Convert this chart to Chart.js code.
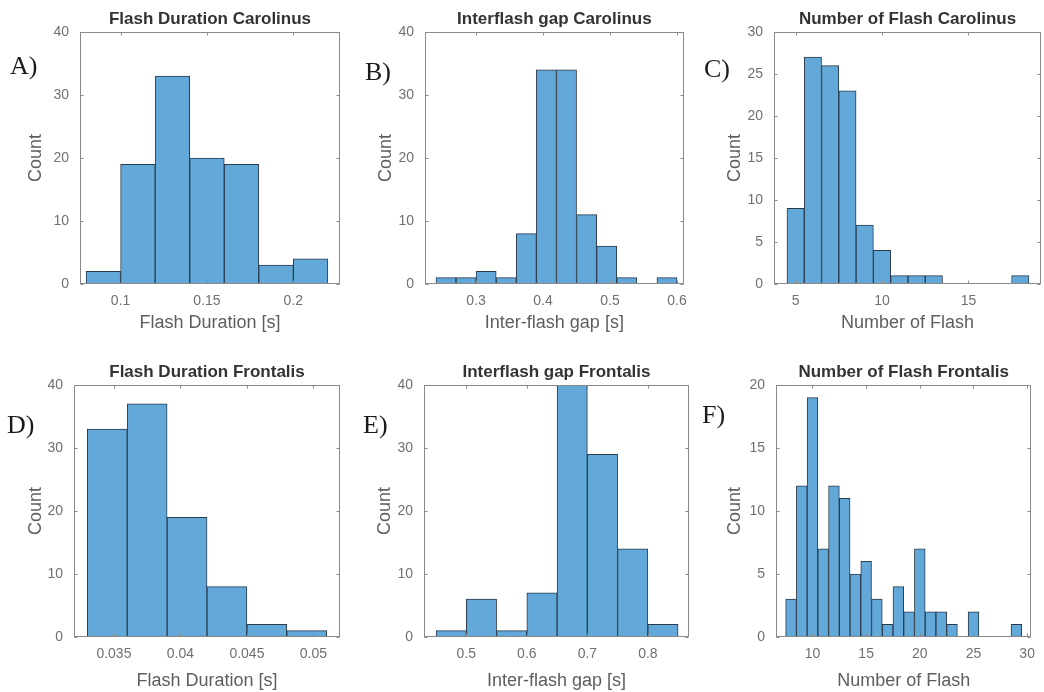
<!DOCTYPE html>
<html>
<head>
<meta charset="utf-8">
<script src="https://cdn.jsdelivr.net/npm/chart.js@4.4.1/dist/chart.umd.min.js"></script>
<style>
  html, body { margin: 0; padding: 0; background: #fff; }
  #wrap { position: relative; width: 1044px; height: 692px; overflow: hidden; }
  #wrap canvas { position: absolute; }
</style>
</head>
<body>
<div id="wrap">
  <canvas id="pA" width="348" height="346" style="left:0;top:0"></canvas>
  <canvas id="pB" width="348" height="346" style="left:348px;top:0"></canvas>
  <canvas id="pC" width="348" height="346" style="left:696px;top:0"></canvas>
  <canvas id="pD" width="348" height="346" style="left:0;top:346px"></canvas>
  <canvas id="pE" width="348" height="346" style="left:348px;top:346px"></canvas>
  <canvas id="pF" width="348" height="346" style="left:696px;top:346px"></canvas>
</div>
<script>
// A) flash duration, Carolinus (bin centres, counts)
const durCarBins = [0.09, 0.11, 0.13, 0.15, 0.17, 0.19, 0.21];
const durCarCounts = [2, 19, 33, 20, 19, 3, 4];
const durCarTicks = [0.1, 0.15, 0.2];

// B) inter-flash gap, Carolinus
const gapCarBins = [0.255, 0.285, 0.315, 0.345, 0.375, 0.405, 0.435, 0.465, 0.495, 0.525, 0.555, 0.585];
const gapCarCounts = [1, 1, 2, 1, 8, 34, 34, 11, 6, 1, 0, 1];
const gapCarTicks = [0.3, 0.4, 0.5, 0.6];

// C) number of flashes, Carolinus
const numCarBins = [5, 6, 7, 8, 9, 10, 11, 12, 13, 14, 15, 16, 17, 18];
const numCarCounts = [9, 27, 26, 23, 7, 4, 1, 1, 1, 0, 0, 0, 0, 1];
const numCarTicks = [5, 10, 15];

// D) flash duration, Frontalis
const durFroBins = [0.0345, 0.0375, 0.0405, 0.0435, 0.0465, 0.0495];
const durFroCounts = [33, 37, 19, 8, 2, 1];
const durFroTicks = [0.035, 0.04, 0.045, 0.05];

// E) inter-flash gap, Frontalis
const gapFroBins = [0.475, 0.525, 0.575, 0.625, 0.675, 0.725, 0.775, 0.825];
const gapFroCounts = [1, 6, 1, 7, 40, 29, 14, 2];
const gapFroTicks = [0.5, 0.6, 0.7, 0.8];

// F) number of flashes, Frontalis
const numFroBins = [8, 9, 10, 11, 12, 13, 14, 15, 16, 17, 18, 19, 20, 21, 22, 23, 24, 25, 26, 27, 28, 29];
const numFroCounts = [3, 12, 19, 7, 12, 11, 5, 6, 3, 1, 4, 2, 7, 2, 2, 1, 0, 2, 0, 0, 0, 1];
const numFroTicks = [10, 15, 20, 25, 30];

const countTicks40 = [0, 10, 20, 30, 40];
const countTicks30 = [0, 5, 10, 15, 20, 25, 30];
const countTicks20 = [0, 5, 10, 15, 20];

const FONT = '"Liberation Sans", Arial, sans-serif';

// box, inner tick marks, title and panel letter (matlab look)
const matlabFrame = {
  id: 'matlabFrame',
  afterDatasetsDraw(chart, args, opts) {
    const { ctx, chartArea: a, scales } = chart;
    const l = Math.round(a.left) + 0.5, r = Math.round(a.right) - 0.5;
    const t = Math.round(a.top) + 0.5, b = Math.round(a.bottom) - 0.5;
    ctx.save();
    ctx.strokeStyle = '#8a8a8a';
    ctx.lineWidth = 1;
    ctx.strokeRect(l, t, r - l, b - t);
    ctx.beginPath();
    scales.x.ticks.forEach((tk) => {
      const px = Math.round(scales.x.getPixelForValue(tk.value)) + 0.5;
      ctx.moveTo(px, b); ctx.lineTo(px, b - 3);
      ctx.moveTo(px, t); ctx.lineTo(px, t + 3);
    });
    scales.y.ticks.forEach((tk) => {
      const py = Math.round(scales.y.getPixelForValue(tk.value)) + 0.5;
      ctx.moveTo(l, py); ctx.lineTo(l + 3, py);
      ctx.moveTo(r, py); ctx.lineTo(r - 3, py);
    });
    ctx.stroke();
    ctx.restore();
  },
  afterDraw(chart, args, opts) {
    const { ctx, chartArea: a } = chart;
    ctx.save();
    ctx.fillStyle = '#333333';
    ctx.font = 'bold 17px ' + FONT;
    ctx.textAlign = 'center';
    ctx.textBaseline = 'middle';
    ctx.fillText(opts.title, (a.left + a.right) / 2, a.top - 13);
    ctx.fillStyle = '#1a1a1a';
    ctx.font = '26px "Liberation Serif", "Times New Roman", serif';
    ctx.textAlign = 'left';
    ctx.textBaseline = 'alphabetic';
    ctx.fillText(opts.letter, opts.lx, opts.ly);
    ctx.restore();
  },
};

function makeHist(id, p) {
  const ctx = document.getElementById(id).getContext('2d');
  return new Chart(ctx, {
    type: 'bar',
    data: {
      datasets: [
        {
          data: p.bins.map((x, i) => ({ x: x, y: p.counts[i] })),
          backgroundColor: '#62a9d9',
          borderColor: '#2b3b4c',
          borderWidth: 1,
          borderSkipped: false,
          barPercentage: 1,
          categoryPercentage: 1,
        },
      ],
    },
    options: {
      responsive: false,
      animation: false,
      devicePixelRatio: 1,
      layout: { padding: { top: p.top, right: p.right, left: 0, bottom: 0 } },
      plugins: {
        legend: { display: false },
        tooltip: { enabled: false },
        matlabFrame: { title: p.title, letter: p.letter, lx: p.lx, ly: p.ly },
      },
      scales: {
        x: {
          type: 'linear',
          offset: false,
          min: p.xmin,
          max: p.xmax,
          grid: { display: false, offset: false, drawTicks: false },
          border: { display: false },
          afterBuildTicks: (s) => { s.ticks = p.xticks.map((v) => ({ value: v })); },
          afterFit: (s) => { s.height = p.xh; },
          ticks: {
            autoSkip: false,
            maxRotation: 0,
            padding: 9,
            color: '#707070',
            font: { family: FONT, size: 14 },
            callback: (v) => String(v),
          },
          title: {
            display: true,
            text: p.xlabel,
            color: '#5e5e5e',
            font: { family: FONT, size: 18 },
            padding: { top: 0, bottom: p.xtb },
          },
        },
        y: {
          min: 0,
          max: p.yticks[p.yticks.length - 1],
          grid: { display: false, drawTicks: false },
          border: { display: false },
          afterBuildTicks: (s) => { s.ticks = p.yticks.map((v) => ({ value: v })); },
          afterFit: (s) => { s.width = p.yw; },
          ticks: {
            padding: 11,
            color: '#707070',
            font: { family: FONT, size: 14 },
          },
          title: {
            display: true,
            text: 'Count',
            color: '#5e5e5e',
            font: { family: FONT, size: 18 },
            padding: { top: p.ytp, bottom: 0 },
          },
        },
      },
    },
    plugins: [matlabFrame],
  });
}

makeHist('pA', {
  bins: durCarBins, counts: durCarCounts, xticks: durCarTicks, yticks: countTicks40,
  xmin: 0.0765, xmax: 0.227, title: 'Flash Duration Carolinus', xlabel: 'Flash Duration [s]',
  letter: 'A)', lx: 10, ly: 74, top: 32, right: 8, yw: 80, xh: 62, xtb: 12, ytp: 25,
});
makeHist('pB', {
  bins: gapCarBins, counts: gapCarCounts, xticks: gapCarTicks, yticks: countTicks40,
  xmin: 0.2237, xmax: 0.61, title: 'Interflash gap Carolinus', xlabel: 'Inter-flash gap [s]',
  letter: 'B)', lx: 17, ly: 80, top: 32, right: 10, yw: 77, xh: 62, xtb: 12, ytp: 27,
});
makeHist('pC', {
  bins: numCarBins, counts: numCarCounts, xticks: numCarTicks, yticks: countTicks30,
  xmin: 3.75, xmax: 19.2, title: 'Number of Flash Carolinus', xlabel: 'Number of Flash',
  letter: 'C)', lx: 8, ly: 77, top: 32, right: 3, yw: 78, xh: 62, xtb: 12, ytp: 28,
});
makeHist('pD', {
  bins: durFroBins, counts: durFroCounts, xticks: durFroTicks, yticks: countTicks40,
  xmin: 0.032, xmax: 0.052, title: 'Flash Duration Frontalis', xlabel: 'Flash Duration [s]',
  letter: 'D)', lx: 7, ly: 87, top: 39, right: 8, yw: 74, xh: 55, xtb: 0, ytp: 25,
});
makeHist('pE', {
  bins: gapFroBins, counts: gapFroCounts, xticks: gapFroTicks, yticks: countTicks40,
  xmin: 0.43, xmax: 0.868, title: 'Interflash gap Frontalis', xlabel: 'Inter-flash gap [s]',
  letter: 'E)', lx: 15, ly: 87, top: 39, right: 7, yw: 76, xh: 55, xtb: 0, ytp: 26,
});
makeHist('pF', {
  bins: numFroBins, counts: numFroCounts, xticks: numFroTicks, yticks: countTicks20,
  xmin: 6.6, xmax: 30.4, title: 'Number of Flash Frontalis', xlabel: 'Number of Flash',
  letter: 'F)', lx: 6, ly: 77, top: 39, right: 5, yw: 80, xh: 55, xtb: 0, ytp: 28,
});
</script>
</body>
</html>
